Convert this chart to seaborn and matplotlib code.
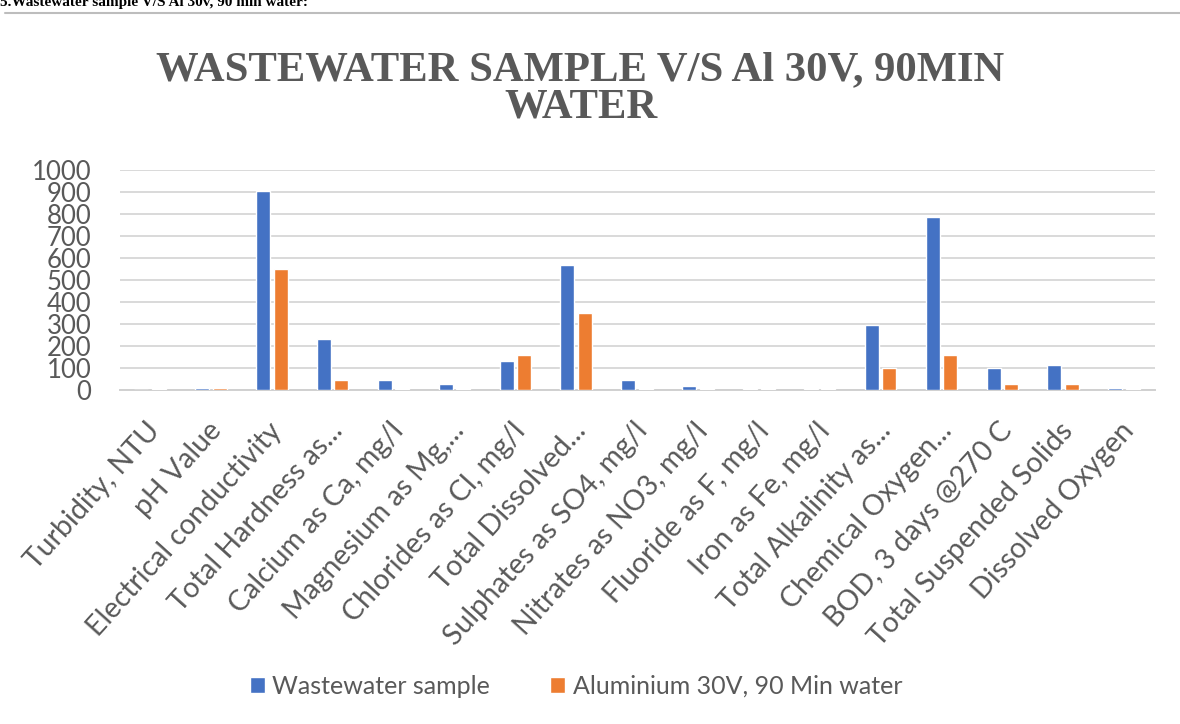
import matplotlib
matplotlib.use("Agg")
import matplotlib.pyplot as plt
from matplotlib.lines import Line2D
from matplotlib.transforms import ScaledTranslation
import pandas as pd
import seaborn as sns

# Water quality parameters
parameters = [
    "Turbidity, NTU", "pH Value", "Electrical conductivity", "Total Hardness as...",
    "Calcium as Ca, mg/l", "Magnesium as Mg,...", "Chlorides as Cl, mg/l",
    "Total Dissolved...", "Sulphates as SO4, mg/l", "Nitrates as NO3, mg/l",
    "Fluoride as F, mg/l", "Iron as Fe, mg/l", "Total Alkalinity as...",
    "Chemical Oxygen...", "BOD, 3 days @270 C", "Total Suspended Solids",
    "Dissolved Oxygen",
]
wastewater = [0, 7, 905, 232, 46, 28, 130, 568, 47, 20, 6, 6, 295, 785, 100, 112, 7]
aluminium = [6, 7, 550, 46, 6, 5, 158, 348, 6, 6, 6, 6, 101, 158, 27, 27, 6]
series_names = ["Wastewater sample", "Aluminium 30V, 90 Min water"]
colors = ["#4472C4", "#ED7D31"]
y_ticks = list(range(0, 1001, 100))

df = pd.DataFrame({
    "parameter": parameters * 2,
    "value": wastewater + aluminium,
    "series": [series_names[0]] * len(parameters) + [series_names[1]] * len(parameters),
})

sns.set_theme(style="white")
plt.rcParams["font.family"] = ["Lato", "DejaVu Sans"]
text_grey = "#595959"

fig = plt.figure(figsize=(11.8, 7.24), dpi=100)
ax = fig.add_axes([0.1014, 0.4613, 0.877, 0.3039])

sns.barplot(data=df, x="parameter", y="value", hue="series", order=parameters,
            hue_order=series_names, palette=colors, width=0.575, gap=0.2,
            saturation=1, ax=ax, legend=True, zorder=3)

ax.set_ylim(0, 1000)
ax.set_xlim(-0.5, len(parameters) - 0.5)
ax.set_yticks(y_ticks)
ax.set_yticklabels([str(t) for t in y_ticks], fontsize=18.5, color=text_grey)
ax.yaxis.grid(True, color="#D9D9D9", linewidth=1.4, zorder=0)
ax.set_axisbelow(True)
for side in ["top", "right", "left"]:
    ax.spines[side].set_visible(False)
ax.spines["bottom"].set_color("#D0D0D0")
ax.spines["bottom"].set_linewidth(1.4)
ax.spines["bottom"].set_zorder(1)
ax.tick_params(axis="y", length=0, pad=20.5)
ax.tick_params(axis="x", length=0, pad=20)
ax.set_xlabel("")
ax.set_ylabel("")
ax.set_xticks(range(len(parameters)))
ax.set_xticklabels(parameters, rotation=48, ha="right", rotation_mode="anchor",
                   fontsize=20.5, color=text_grey)
shift = ScaledTranslation(-4 / 100, 0, fig.dpi_scale_trans)
for lab in ax.get_xticklabels():
    lab.set_transform(lab.get_transform() + shift)

handles, labels = ax.get_legend_handles_labels()
ax.get_legend().remove()
fig.legend(handles, labels, loc="center", bbox_to_anchor=(0.488, 1 - 686 / 724), ncol=2,
           frameon=False, fontsize=18, labelcolor=text_grey, handlelength=0.6,
           handleheight=0.6, handletextpad=0.3, columnspacing=2.4,
           borderpad=0, borderaxespad=0)

fig.text(0.492, 1 - 89 / 724, "WASTEWATER SAMPLE V/S Al 30V, 90MIN\nWATER",
         ha="center", va="center", fontsize=30.7, fontweight="bold",
         color=text_grey, family="Liberation Serif", linespacing=1.0)

# Section heading above the chart, with its rule
fig.text(0.0, 1 - 6 / 724, "5.Wastewater sample V/S Al 30v, 90 min water:",
         ha="left", va="baseline", fontsize=11, fontweight="bold",
         color="black", family="Liberation Serif")
fig.add_artist(Line2D([5 / 1180, 1.0], [1 - 12.5 / 724] * 2, color="#BDBDBD",
                      linewidth=1.5, transform=fig.transFigure))

fig.savefig("out.png", dpi=100)
